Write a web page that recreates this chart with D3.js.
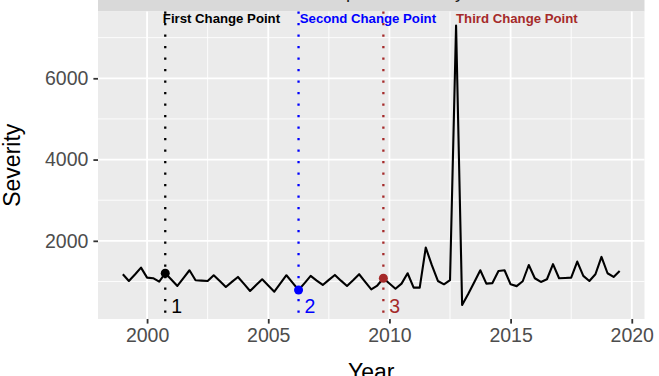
<!DOCTYPE html>
<html>
<head>
<meta charset="utf-8">
<script src="https://cdn.jsdelivr.net/npm/d3@7"></script>
<style>
  html, body { margin: 0; padding: 0; background: #ffffff; }
  svg { display: block; }
  text { font-family: "Liberation Sans", Arial, Helvetica, sans-serif; }
</style>
</head>
<body>
<svg id="chart" width="659" height="376"></svg>
<script>
// ---------------- data ----------------
const startYear = 1999;          // first quarter
const quarterStep = 0.25;
const severity = [
  1178, 1012, 1170, 1340, 1094, 1080, 995, 1202, 1050, 890,
  1080, 1276, 1030, 1020, 1012, 1153, 1010, 864, 990, 1111,
  940, 765, 910, 1054, 900, 748, 950, 1153, 970, 790,
  960, 1136, 1020, 914, 1040, 1160, 1020, 889, 1030, 1178,
  990, 807, 900, 1079, 950, 822, 946, 1202, 847, 847,
  1835, 1400, 1012, 930, 1030, 7300, 420, 690, 980, 1276,
  946, 960, 1259, 1276, 930, 885, 1005, 1405, 1079, 988,
  1054, 1425, 1079, 1086, 1094, 1489, 1136, 1012, 1178, 1605,
  1202, 1111, 1259
];
const changeYears = [2000.75, 2006.25, 2009.75];
const changeNames = ["First Change Point", "Second Change Point", "Third Change Point"];
const changeNumbers = ["1", "2", "3"];
const changeLabelYears = [2000.65, 2006.3, 2012.75];
const changeColors = ["#000000", "#0000FF", "#A52A2A"];
const xTicks = [2000, 2005, 2010, 2015, 2020];
const xMinor = [2002.5, 2007.5, 2012.5, 2017.5];
const yTicks = [2000, 4000, 6000];
const yMinor = [1000, 3000, 5000, 7000];
const stripTitle = "Computed Severity";
const xTitle = "Year";
const yTitle = "Severity";

// ---------------- layout ----------------
const svg = d3.select("#chart");
const P = { left: 98, right: 644.5, top: 11.5, bottom: 319 };

const points = severity.map((v, i) => ({ year: startYear + i * quarterStep, value: v }));
const xExt = d3.extent(points, d => d.year);
const yExt = d3.extent(points, d => d.value);
const xPad = (xExt[1] - xExt[0]) * 0.05;
const yPad = (yExt[1] - yExt[0]) * 0.05;

const x = d3.scaleLinear().domain([xExt[0] - xPad, xExt[1] + xPad]).range([P.left, P.right]);
const y = d3.scaleLinear().domain([yExt[0] - yPad, yExt[1] + yPad]).range([P.bottom, P.top]);

// strip
svg.append("rect").attr("x", P.left).attr("y", -40).attr("width", P.right - P.left)
  .attr("height", P.top + 40).attr("fill", "#D9D9D9");
svg.append("text").attr("x", 307).attr("y", -2.2).attr("font-size", 18.5)
  .attr("fill", "#1A1A1A").text(stripTitle);

// panel
svg.append("rect").attr("x", P.left).attr("y", P.top).attr("width", P.right - P.left)
  .attr("height", P.bottom - P.top).attr("fill", "#EBEBEB");

const grid = svg.append("g");
grid.selectAll(".xmin").data(xMinor).join("line")
  .attr("x1", d => x(d)).attr("x2", d => x(d)).attr("y1", P.top).attr("y2", P.bottom)
  .attr("stroke", "#fff").attr("stroke-width", 0.9);
grid.selectAll(".ymin").data(yMinor.filter(v => y(v) > P.top && y(v) < P.bottom)).join("line")
  .attr("y1", d => y(d)).attr("y2", d => y(d)).attr("x1", P.left).attr("x2", P.right)
  .attr("stroke", "#fff").attr("stroke-width", 0.9);
grid.selectAll(".xmaj").data(xTicks).join("line")
  .attr("x1", d => x(d)).attr("x2", d => x(d)).attr("y1", P.top).attr("y2", P.bottom)
  .attr("stroke", "#fff").attr("stroke-width", 1.8);
grid.selectAll(".ymaj").data(yTicks).join("line")
  .attr("y1", d => y(d)).attr("y2", d => y(d)).attr("x1", P.left).attr("x2", P.right)
  .attr("stroke", "#fff").attr("stroke-width", 1.8);

// change point vertical dotted lines
svg.append("g").selectAll("line").data(changeYears).join("line")
  .attr("x1", d => x(d)).attr("x2", d => x(d)).attr("y1", P.top).attr("y2", P.bottom)
  .attr("stroke", (d, i) => changeColors[i]).attr("stroke-width", 2.3)
  .attr("stroke-dasharray", "2.3 9.2");

// series line
const line = d3.line().x(d => x(d.year)).y(d => y(d.value));
svg.append("path").datum(points).attr("d", line).attr("fill", "none")
  .attr("stroke", "#000").attr("stroke-width", 2.1).attr("stroke-linejoin", "round");

// change point dots
const cpPoints = changeYears.map(yr => points.find(p => Math.abs(p.year - yr) < 1e-6));
svg.append("g").selectAll("circle").data(cpPoints).join("circle")
  .attr("cx", d => x(d.year)).attr("cy", d => y(d.value)).attr("r", 4.5)
  .attr("fill", (d, i) => changeColors[i]);

// change point names at top
svg.append("g").selectAll("text").data(changeNames).join("text")
  .attr("x", (d, i) => x(changeLabelYears[i])).attr("y", 23)
  .attr("font-size", 13.2).attr("font-weight", "bold")
  .attr("fill", (d, i) => changeColors[i]).text(d => d);

// change point numbers at bottom
svg.append("g").selectAll("text").data(changeNumbers).join("text")
  .attr("x", (d, i) => x(changeYears[i]) + 6).attr("y", 313)
  .attr("font-size", 19.5)
  .attr("fill", (d, i) => changeColors[i]).text(d => d);

// axes
const xAxis = d3.axisBottom(x).tickValues(xTicks).tickFormat(d3.format("d")).tickSize(4.6).tickPadding(5);
const gx = svg.append("g").attr("transform", `translate(0,${P.bottom})`).call(xAxis);
gx.select(".domain").remove();
gx.selectAll(".tick line").attr("stroke", "#333333").attr("stroke-width", 1.8);
gx.selectAll(".tick text").attr("fill", "#4D4D4D").attr("font-size", 19.5)
  .attr("font-family", "Liberation Sans, Arial, sans-serif");

const yAxis = d3.axisLeft(y).tickValues(yTicks).tickFormat(d3.format("d")).tickSize(4.6).tickPadding(5);
const gy = svg.append("g").attr("transform", `translate(${P.left},0)`).call(yAxis);
gy.select(".domain").remove();
gy.selectAll(".tick line").attr("stroke", "#333333").attr("stroke-width", 1.8);
gy.selectAll(".tick text").attr("fill", "#4D4D4D").attr("font-size", 19.5)
  .attr("font-family", "Liberation Sans, Arial, sans-serif");

// axis titles
svg.append("text").attr("x", (P.left + P.right) / 2).attr("y", 380)
  .attr("text-anchor", "middle").attr("font-size", 23).attr("fill", "#000").text(xTitle);
svg.append("text").attr("transform", `translate(20,${(P.top + P.bottom) / 2}) rotate(-90)`)
  .attr("text-anchor", "middle").attr("font-size", 23).attr("fill", "#000").text(yTitle);
</script>
</body>
</html>
